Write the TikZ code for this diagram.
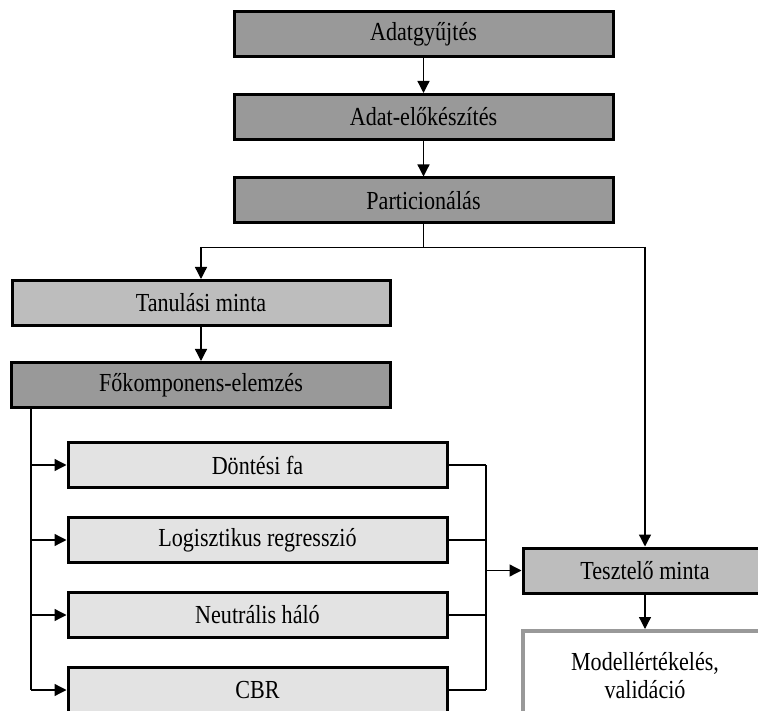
\documentclass[tikz,border=0pt]{standalone}
\usepackage{fontspec}
\setmainfont[FakeStretch=0.85]{Liberation Serif}
\usetikzlibrary{arrows.meta}

\definecolor{boxdark}{gray}{0.60}
\definecolor{boxmid}{gray}{0.74}
\definecolor{boxlight}{gray}{0.89}
\definecolor{evalgray}{gray}{0.60}

\begin{document}
\begin{tikzpicture}[x=1pt, y=-1pt, line width=1.3pt,
	>={Triangle[length=12pt,width=12pt]},
	box/.style={draw, line width=3pt, inner sep=0pt, minimum height=45pt, font=\fontsize{26}{28}\selectfont},
	dark/.style={box, fill=boxdark, minimum width=379pt},
	mid/.style={box, fill=boxmid},
	model/.style={box, fill=boxlight, minimum width=379pt},
	evalbox/.style={box, draw=evalgray, line width=4pt, fill=white, minimum width=244pt, minimum height=90pt, align=center}]
	\useasboundingbox (0, 0) rectangle (758, 711);

	\node[dark] (gyujt) at (423.5, 34.5) {Adatgyűjtés};
	\node[dark] (elokesz) at (423.5, 117) {Adat-előkészítés};
	\node[dark] (partic) at (423.5, 200.5) {Particionálás};

	\node[mid, minimum width=378pt] (tanul) at (201, 303) {Tanulási minta};
	\node[dark] (fokomp) at (201, 385) {Főkomponens-elemzés};

	\node[model] (dontes) at (257.5, 465) {Döntési fa};
	\node[model] (logreg) at (257.5, 540) {Logisztikus regresszió};
	\node[model] (neural) at (257.5, 615) {Neutrális háló};
	\node[model] (cbr) at (257.5, 690) {CBR};

	\node[mid, minimum width=244pt] (teszt) at (645, 570.5) {Tesztelő minta};
	\node[evalbox] (modell) at (645, 676) {Modellértékelés,\\validáció};

	\coordinate (split) at (423.5, 247);
	\coordinate (trunk) at (31, 407);
	\coordinate (bus) at (486, 465);

	\draw[->] (gyujt) -- (elokesz);
	\draw[->] (elokesz) -- (partic);
	\draw[line width=0.9pt] (partic) -- (split);
	\draw[line width=0.9pt] (split -| tanul) -- (split -| teszt);
	\draw[->] (split -| tanul) -- (tanul);
	\draw[->] (split -| teszt) -- (teszt);
	\draw[->] (tanul) -- (fokomp);

	% Models
	\draw (fokomp.south -| trunk) -- (trunk |- cbr);
	\foreach \m in {dontes, logreg, neural, cbr}
		\draw[->] (trunk |- \m.west) -- (\m.west);
	\foreach \m in {dontes, logreg, neural, cbr}
		\draw (\m.east) -- (bus |- \m.east);
	\draw (bus) -- (bus |- cbr);
	\draw[->] (bus |- teszt) -- (teszt);
	\draw[->] (teszt) -- (modell);
\end{tikzpicture}
\end{document}
